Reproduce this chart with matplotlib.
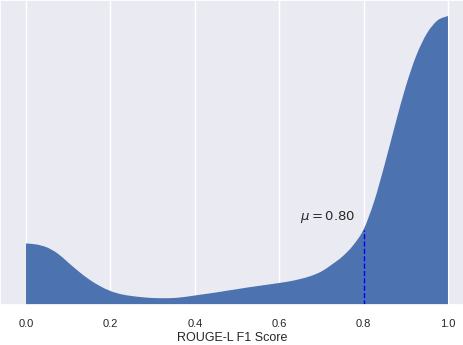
import matplotlib
matplotlib.use("Agg")
import matplotlib.pyplot as plt
from matplotlib.path import Path
from matplotlib.patches import PathPatch
import seaborn as sns

# density curve of ROUGE-L F1 scores
score = [0.000, 0.025, 0.050, 0.075, 0.100, 0.125, 0.150, 0.175, 0.200, 0.225,
         0.250, 0.275, 0.300, 0.325, 0.350, 0.375, 0.400, 0.425, 0.450, 0.475,
         0.500, 0.525, 0.550, 0.575, 0.600, 0.625, 0.650, 0.675, 0.700, 0.725,
         0.750, 0.775, 0.800, 0.825, 0.850, 0.875, 0.900, 0.925, 0.950, 0.975,
         1.000]
density = [0.620, 0.610, 0.580, 0.520, 0.430, 0.340, 0.260, 0.195, 0.145, 0.113,
           0.095, 0.083, 0.075, 0.073, 0.075, 0.085, 0.100, 0.115, 0.130, 0.147,
           0.163, 0.180, 0.195, 0.210, 0.225, 0.242, 0.265, 0.295, 0.340, 0.410,
           0.490, 0.600, 0.760, 1.040, 1.410, 1.810, 2.190, 2.500, 2.720, 2.850,
           2.895]
mean_score = 0.80
mean_density = 0.755
xticks = [0.0, 0.2, 0.4, 0.6, 0.8, 1.0]

sns.set_theme(style="darkgrid")
plt.rcParams["font.family"] = ["Liberation Sans", "DejaVu Sans"]

fig = plt.figure(figsize=(4.64, 3.45), dpi=100)
ax = fig.add_axes([0, 0.1145, 1, 0.8855])

# smooth outline through the read points (Catmull-Rom as cubic Beziers)
verts = [(score[0], 0), (score[0], density[0])]
codes = [Path.MOVETO, Path.LINETO]
n = len(score)
for i in range(n - 1):
    p0 = (score[max(i - 1, 0)], density[max(i - 1, 0)])
    p1 = (score[i], density[i])
    p2 = (score[i + 1], density[i + 1])
    p3 = (score[min(i + 2, n - 1)], density[min(i + 2, n - 1)])
    c1 = (p1[0] + (p2[0] - p0[0]) / 6, p1[1] + (p2[1] - p0[1]) / 6)
    c2 = (p2[0] - (p3[0] - p1[0]) / 6, p2[1] - (p3[1] - p1[1]) / 6)
    verts += [c1, c2, p2]
    codes += [Path.CURVE4] * 3
verts += [(score[-1], 0), (score[0], 0)]
codes += [Path.LINETO, Path.CLOSEPOLY]
ax.add_patch(PathPatch(Path(verts, codes), facecolor="#4c72b0", edgecolor="none"))

ax.vlines(mean_score, 0, mean_density, colors="blue", linestyles="--", linewidth=1.0)
ax.text(0.65, 0.85, r"$\mu = 0.80$", fontsize=9.5, math_fontfamily="dejavusans")

ax.set_xlim(-0.0616, 1.038)
ax.set_ylim(0, 3.055)
ax.set_xticks(xticks)
ax.set_xticklabels([f"{t:.1f}" for t in xticks], fontsize=8)
ax.tick_params(axis="x", pad=4)
ax.set_yticks([])
ax.set_xlabel("ROUGE-L F1 Score", fontsize=9, labelpad=2)
ax.grid(axis="y", visible=False)

fig.savefig("out.png", dpi=100)
